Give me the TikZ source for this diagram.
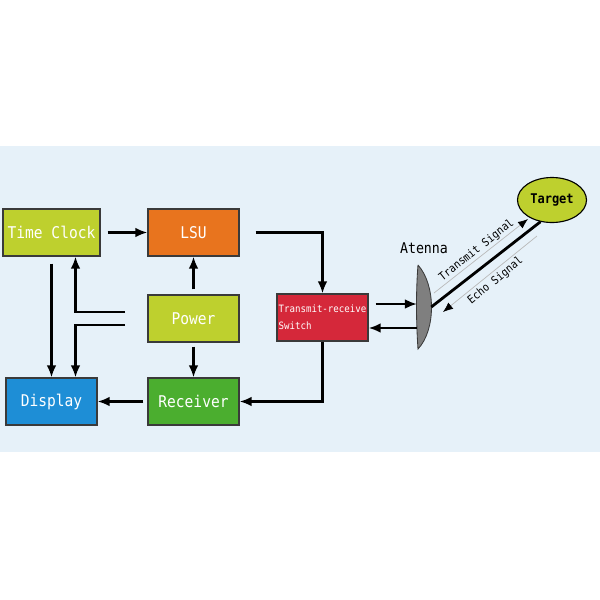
\documentclass[tikz,border=0pt]{standalone}
\usepackage{fontspec}
\newfontfamily\diagfont[FakeStretch=0.9]{DejaVu Sans Mono}
\usetikzlibrary{arrows.meta, shapes.geometric}
\definecolor{band}{HTML}{E6F1F9}
\definecolor{edge}{HTML}{3A3A3A}
\definecolor{boxlime}{HTML}{BED02E}
\definecolor{boxorange}{HTML}{E8741E}
\definecolor{boxblue}{HTML}{1E8ED6}
\definecolor{boxgreen}{HTML}{4BAE2F}
\definecolor{boxred}{HTML}{D5283A}
\definecolor{dish}{HTML}{7F7F7F}

\begin{document}
\begin{tikzpicture}[x=0.025cm, y=-0.025cm,
  every node/.style={font=\diagfont},
  block/.style={rectangle, draw=edge, line width=0.8pt, minimum width=2.275cm, minimum height=1.175cm, text=white, font=\diagfont\fontsize{11.5}{12}\selectfont},
  arr/.style={line width=1.6pt, -{Latex[length=0.3cm, width=0.24cm]}},
  sig/.style={draw=gray!55, line width=0.5pt, -{Latex[length=0.25cm, width=0.2cm, color=black]}}]
                \useasboundingbox (0,0) rectangle (600,600);
                \fill[white] (0,0) rectangle (600,600);
                \fill[band] (0,146) rectangle (600,452);
                \node[block, fill=boxlime] (clock) at (51.5,232.5) {Time Clock};
                \node[block, fill=boxorange] (lsu) at (193.5,232.5) {LSU};
                \node[block, fill=boxlime] (power) at (193.5,318.5) {Power};
                \node[block, fill=boxblue] (disp) at (51.5,401.5) {Display};
                \node[block, fill=boxgreen] (recv) at (193.5,401.5) {Receiver};
                \node[block, fill=boxred, align=left, inner xsep=0.5pt, font=\diagfont\fontsize{7.2}{12}\selectfont] (sw) at (322.5,317.5) {\mbox{Transmit-receive}\\Switch};
                \node[minimum width=0.35cm, minimum height=2.1cm, inner sep=0pt, label={[font=\diagfont\fontsize{10.5}{12}\selectfont, label distance=0.15cm]above:Atenna}] (ant) at (424,307) {};
                \draw[fill=dish, draw=edge, line width=0.6pt] (418,265) .. controls (436,285) and (436,330) .. (418,349) .. controls (416,320) and (416,290) .. (418,265);
                \node[ellipse, draw, line width=0.8pt, fill=boxlime, minimum width=1.725cm, minimum height=1.125cm, inner sep=0pt, font=\diagfont\fontsize{9.5}{12}\selectfont\bfseries] (tgt) at (552,200) {Target};
                \coordinate (p1) at (125,312);
                \coordinate (p2) at (125,325);
                \coordinate (a1) at (417,304);
                \coordinate (a2) at (417,328);
                \coordinate (t1) at (434,293);
                \coordinate (t2) at (528,219);
                \coordinate (e1) at (537,236);
                \coordinate (e2) at (443,312);
                \draw[arr, shorten <=0.175cm] (clock) -- (lsu);
                \draw[arr, shorten <=0.4cm] (lsu.east) -| (sw.north);
                \draw[arr, shorten <=0.125cm] (power) -- (lsu);
                \draw[arr, shorten <=0.1cm] (power) -- (recv);
                \draw[arr] (sw.south) |- (recv.east);
                \draw[arr, shorten <=0.1cm] (recv) -- (disp);
                \draw[arr, shorten <=0.175cm] (clock) -- (disp);
                \draw[arr] (p1) -| ([xshift=0.6cm]clock.south);
                \draw[arr] (p2) -| ([xshift=0.6cm]disp.north);
                \draw[arr, shorten <=0.175cm] (sw.east |- a1) -- (a1);
                \draw[arr] (a2) -- (sw.east |- a2);
                \draw[line width=2pt] (ant.east) -- (tgt.-118);
                \draw[sig] (t1) -- node[sloped, above, inner sep=1pt, font=\diagfont\fontsize{8}{10}\selectfont] {Transmit Signal} (t2);
                \draw[sig] (e1) -- node[sloped, below, inner sep=2pt, font=\diagfont\fontsize{8}{10}\selectfont] {Echo Signal} (e2);
                \end{tikzpicture}
\end{document}
